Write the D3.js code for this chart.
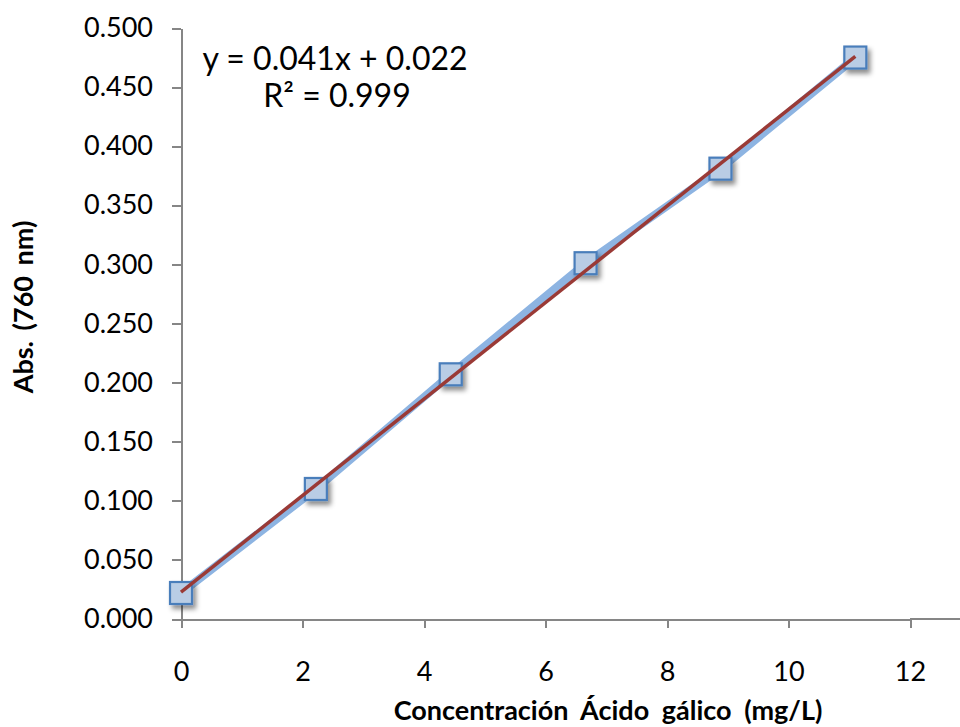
<!DOCTYPE html>
<html lang="es">
<head>
<meta charset="UTF-8">
<title>Curva de calibración Ácido gálico</title>
<script src="https://d3js.org/d3.v7.min.js"></script>
<style>
  body { margin: 0; background: #fff; }
  svg text { font-family: Lato, "Open Sans", sans-serif; fill: #000; }
  .axis path, .axis line { stroke: #868686; stroke-width: 2; shape-rendering: crispEdges; }
  .axis text { font-size: 27px; }
</style>
</head>
<body>
<svg id="chart" width="960" height="727"></svg>
<script>
// data
const concentration = [0, 2.22, 4.44, 6.66, 8.88, 11.1];
const absorbance = [0.022, 0.110, 0.207, 0.301, 0.381, 0.475];
const xTicks = [0, 2, 4, 6, 8, 10, 12];
const yTicks = [0, 0.05, 0.1, 0.15, 0.2, 0.25, 0.3, 0.35, 0.4, 0.45, 0.5];
const equationLabel = "y = 0.041x + 0.022";
const r2Label = "R² = 0.999";

const svg = d3.select("#chart");
const W = 960;

const x = d3.scaleLinear().domain([0, 12]).range([181, 910]);
const y = d3.scaleLinear().domain([0, 0.5]).range([619, 28]);

const defs = svg.append("defs");
const shadow = defs.append("filter").attr("id", "shadow")
    .attr("x", "-50%").attr("y", "-50%").attr("width", "200%").attr("height", "200%");
shadow.append("feDropShadow")
    .attr("dx", 3).attr("dy", 4).attr("stdDeviation", 2.5)
    .attr("flood-color", "#000").attr("flood-opacity", 0.45);

// axes
svg.append("g")
    .attr("class", "axis")
    .attr("transform", "translate(0," + y(0) + ")")
    .call(d3.axisBottom(x).tickValues(xTicks).tickSizeInner(9).tickSizeOuter(0).tickPadding(34))
    .call(g => g.selectAll("text").attr("dy", "0.71em"));
// the x axis line keeps going to the right edge
svg.append("line")
    .attr("x1", x(12)).attr("x2", W)
    .attr("y1", y(0)).attr("y2", y(0))
    .attr("stroke", "#868686").attr("stroke-width", 2)
    .attr("shape-rendering", "crispEdges");

svg.append("g")
    .attr("class", "axis")
    .attr("transform", "translate(" + x(0) + ",0)")
    .call(d3.axisLeft(y).tickValues(yTicks).tickFormat(d3.format(".3f"))
        .tickSizeInner(9).tickSizeOuter(0).tickPadding(19));

// series line
const pts = concentration.map((c, i) => [c, absorbance[i]]);
svg.append("path")
    .datum(pts)
    .attr("fill", "none")
    .attr("stroke", "#8DB4E2")
    .attr("stroke-width", 8)
    .attr("stroke-linejoin", "round")
    .attr("d", d3.line().x(d => x(d[0])).y(d => y(d[1])));

// markers
const size = 22;
svg.append("g").selectAll("rect")
    .data(pts)
    .join("rect")
    .attr("x", d => x(d[0]) - size / 2)
    .attr("y", d => y(d[1]) - size / 2)
    .attr("width", size).attr("height", size)
    .attr("fill", "#B9CDE5")
    .attr("stroke", "#4A7EBB")
    .attr("stroke-width", 2.2)
    .attr("filter", "url(#shadow)");

// linear trendline (least squares on the data)
const mx = d3.mean(concentration), my = d3.mean(absorbance);
const slope = d3.sum(pts, d => (d[0] - mx) * (d[1] - my)) / d3.sum(pts, d => (d[0] - mx) ** 2);
const icpt = my - slope * mx;
const xr = d3.extent(concentration);
svg.append("line")
    .attr("x1", x(xr[0])).attr("y1", y(icpt + slope * xr[0]))
    .attr("x2", x(xr[1])).attr("y2", y(icpt + slope * xr[1]))
    .attr("stroke", "#9A3A36")
    .attr("stroke-width", 3.5);

// equation
svg.append("text").attr("x", 335).attr("y", 70)
    .attr("text-anchor", "middle").style("font-size", "32px").text(equationLabel);
svg.append("text").attr("x", 337).attr("y", 107)
    .attr("text-anchor", "middle").style("font-size", "32px").text(r2Label);

// axis titles
svg.append("text")
    .attr("transform", "translate(33,307) rotate(-90)")
    .attr("text-anchor", "middle")
    .style("font-size", "27px").style("font-weight", "bold")
    .style("word-spacing", "4px")
    .text("Abs. (760 nm)");
svg.append("text")
    .attr("x", 608).attr("y", 720)
    .attr("text-anchor", "middle")
    .style("font-size", "27px").style("font-weight", "bold")
    .style("word-spacing", "6px")
    .text("Concentración Ácido gálico (mg/L)");
</script>
</body>
</html>
